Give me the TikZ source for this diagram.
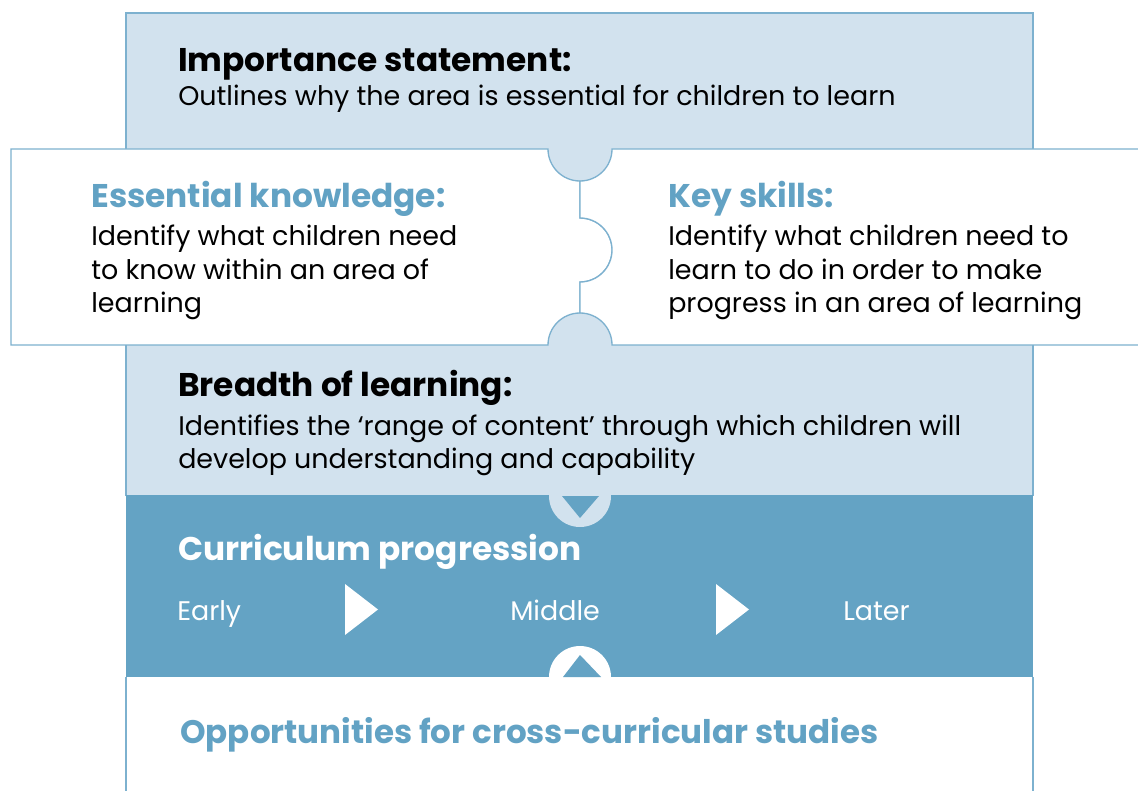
\documentclass[tikz,border=0pt]{standalone}
\usepackage{fontspec}
\setmainfont{Poppins}
\definecolor{lightfill}{HTML}{D2E2EE}
\definecolor{band}{HTML}{64A3C4}
\definecolor{lineblue}{HTML}{7DB1CF}
\definecolor{headblue}{HTML}{62A2C4}
\begin{document}
\begin{tikzpicture}[x=0.75pt,y=-0.75pt,
  bdr/.style={draw=lineblue,line width=1pt},
  hd/.style={anchor=base west,inner sep=0pt,font=\fontsize{24.6}{28}\selectfont\bfseries},
  bd/.style={anchor=base west,inner sep=0pt,font=\fontsize{20.2}{24}\selectfont},
]
\useasboundingbox (0,0) rectangle (1138,791);
\clip (0,0) rectangle (1138,791);
\fill[white] (0,0) rectangle (1138,791);
% light column
\fill[lightfill] (126,13) rectangle (1033,496);
\draw[bdr] (126,496) -- (126,13) -- (1033,13) -- (1033,496);
% progression band
\fill[band] (126,495) rectangle (1033,677);
\fill[lightfill] (580,496) circle[radius=31];
\fill[band] (562,496) -- (599,496) -- (580,518) -- cycle;
% bottom white box
\fill[white] (126,677) rectangle (1033,800);
\draw[bdr] (126,677) -- (126,800) (1033,677) -- (1033,800);
\fill[white] (580,677) circle[radius=31];
\fill[band] (563,677) -- (601,677) -- (580,655) -- cycle;
% play arrows
\fill[white] (345,584) -- (378,609.5) -- (345,635) -- cycle;
\fill[white] (716,584) -- (749,609.5) -- (716,635) -- cycle;
% left puzzle box
\filldraw[fill=white,bdr] (11,149) -- (548,149) arc[start angle=180,end angle=90,radius=32]
  -- (580,218) arc[start angle=-90,end angle=90,radius=32]
  -- (580,313) arc[start angle=270,end angle=180,radius=32]
  -- (11,345) -- cycle;
% right puzzle box
\filldraw[fill=white,bdr] (1150,149) -- (612,149) arc[start angle=0,end angle=90,radius=32]
  -- (580,218) arc[start angle=-90,end angle=90,radius=32]
  -- (580,313) arc[start angle=-90,end angle=0,radius=32]
  -- (1150,345) -- cycle;
% texts
\node[hd] (imp) at (178,72) {Importance statement:};
\node[bd] (impt) at (178,106) {Outlines why the area is essential for children to learn};
\node[hd,text=headblue] (ek) at (91,208) {Essential knowledge:};
\node[bd] (ek1) at (91,246) {Identify what children need};
\node[bd] (ek2) at (91,280) {to know within an area of};
\node[bd] (ek3) at (91,313) {learning};
\node[hd,text=headblue] (ks) at (668,208) {Key skills:};
\node[bd] (ks1) at (668,246) {Identify what children need to};
\node[bd] (ks2) at (668,280) {learn to do in order to make};
\node[bd] (ks3) at (668,313) {progress in an area of learning};
\node[hd] (bl) at (178,397) {Breadth of learning:};
\node[bd] (bl1) at (178,435) {Identifies the `range of content’ through which children will};
\node[bd] (bl2) at (178,468) {develop understanding and capability};
\node[hd,text=white] (cp) at (178,560) {Curriculum progression};
\node[bd,text=white] (early) at (177,620) {Early};
\node[bd,text=white] (middle) at (510,620) {Middle};
\node[bd,text=white] (later) at (843,620) {Later};
\node[hd,text=headblue,font=\fontsize{24.4}{28}\selectfont\bfseries] (opp) at (180,743) {Opportunities for cross-curricular studies};
\end{tikzpicture}
\end{document}
